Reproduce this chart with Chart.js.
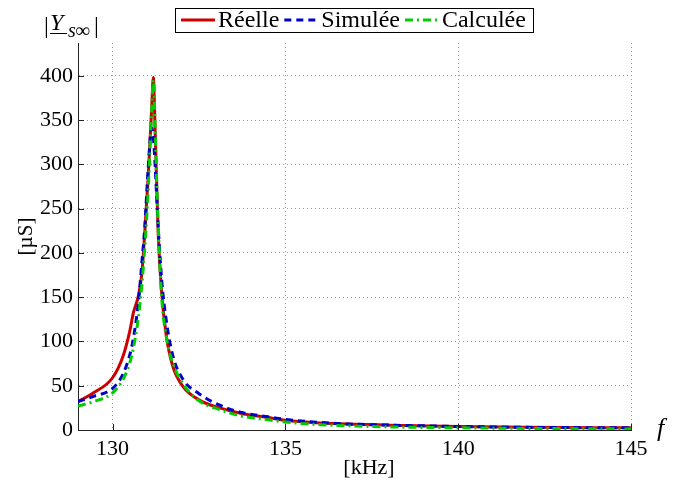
<!DOCTYPE html>
<html>
<head>
<meta charset="utf-8">
<script src="https://cdn.jsdelivr.net/npm/chart.js@4.4.0/dist/chart.umd.min.js"></script>
<style>
html, body { margin: 0; padding: 0; background: #fff; }
#wrap { width: 683px; height: 484px; }
</style>
</head>
<body>
<div id="wrap"><canvas id="chart_adm"></canvas></div>
<script>
// frequences [kHz]
var freq = [129, 129.45, 130, 130.3, 130.5, 130.6, 130.75, 130.85, 130.93, 131.03, 131.13, 131.18, 131.23, 131.27, 131.32,
            131.42, 131.56, 131.75, 132.04, 132.5, 133.1, 133.7, 134.5, 135, 136, 137, 138, 140, 142, 145];
// |Ys_inf| [uS]
var reelle   = [32, 42, 59, 83, 112, 132, 152, 178, 222, 286, 362, 398, 340, 286, 222,
                155, 105, 71, 49, 34, 25, 19, 14, 11, 8, 6.5, 5.5, 4, 3, 2.5];
var simulee  = [32, 38, 47, 63, 85, 103, 145, 190, 228, 295, 341, 330, 300, 268, 230,
                170, 122, 83, 57, 41, 28, 20, 15, 12, 8.5, 6.5, 5.5, 4, 3, 2.5];
var calculee = [27, 32, 42, 57, 76, 92, 128, 165, 205, 270, 360, 395, 345, 290, 230,
                150, 104, 75, 52, 33, 23, 16, 11.5, 9, 6, 4.5, 3.5, 2.5, 1.8, 1.2];
var xTicks = [130, 135, 140, 145];
var yTicks = [0, 50, 100, 150, 200, 250, 300, 350, 400];

var serif = '"Liberation Serif", "Times New Roman", serif';

function pts(ys) {
    return freq.map(function (f, i) { return {x: f, y: ys[i]}; });
}

// ticks vers l'interieur, legende encadree, etiquettes des axes
var extras = {
    id: 'extras',
    afterDraw: function (chart) {
        var c = chart.ctx, a = chart.chartArea;
        var sx = chart.scales.x, sy = chart.scales.y;
        c.save();
        c.strokeStyle = '#222';
        c.lineWidth = 1;
        c.beginPath();
        xTicks.forEach(function (v) {
            var px = Math.round(sx.getPixelForValue(v)) + 0.5;
            c.moveTo(px, a.bottom); c.lineTo(px, a.bottom - 6);
        });
        yTicks.forEach(function (v) {
            var py = Math.round(sy.getPixelForValue(v)) + 0.5;
            c.moveTo(a.left, py); c.lineTo(a.left + 6, py);
        });
        c.stroke();

        // legende
        var bx = 175, by = 8, bw = 358, bh = 24;
        c.fillStyle = '#fff';
        c.fillRect(bx, by, bw, bh);
        c.strokeStyle = '#000';
        c.strokeRect(bx + 0.5, by + 0.5, bw, bh);
        c.font = '24px ' + serif;
        c.textBaseline = 'middle';
        var x = bx + 6, ym = by + bh / 2 + 1;
        chart.data.datasets.forEach(function (ds) {
            c.strokeStyle = ds.borderColor;
            c.lineWidth = 3;
            c.setLineDash(ds.borderDash || []);
            c.beginPath();
            c.moveTo(x, ym - 1); c.lineTo(x + 34, ym - 1);
            c.stroke();
            c.setLineDash([]);
            x += 37;
            c.fillStyle = '#000';
            c.fillText(ds.label, x, ym);
            x += c.measureText(ds.label).width + 5;
        });

        // |Y_s∞|
        c.fillStyle = '#000';
        c.textBaseline = 'alphabetic';
        c.font = '24px ' + serif;
        c.fillText('|', 44, 33);
        c.font = 'italic 24px ' + serif;
        c.fillText('Y', 50, 30);
        c.fillRect(50, 33, 17, 1);
        c.font = 'italic 20px ' + serif;
        c.fillText('s\u221e', 68, 37);
        c.font = '24px ' + serif;
        c.fillText('|', 94, 33);

        // [kHz] et f
        c.font = '22px ' + serif;
        c.textAlign = 'center';
        c.fillText('[kHz]', 369, 474);
        c.textAlign = 'left';
        c.font = 'italic 26px ' + serif;
        c.fillText('f', 657, 436);
        c.restore();
    }
};

var ctx = document.getElementById('chart_adm').getContext('2d');
var chart = new Chart(ctx, {
    type: 'line',
    data: {
        datasets: [{
            label: 'Réelle',
            data: pts(reelle),
            borderColor: '#cc0000',
            borderWidth: 3,
            order: 3
        }, {
            label: 'Simulée',
            data: pts(simulee),
            borderColor: '#0000cc',
            borderWidth: 3,
            borderDash: [7, 5],
            order: 2
        }, {
            label: 'Calculée',
            data: pts(calculee),
            borderColor: '#00cc00',
            borderWidth: 3,
            borderDash: [8, 4, 2, 4],
            order: 1
        }]
    },
    options: {
        responsive: true,
        maintainAspectRatio: false,
        animation: false,
        devicePixelRatio: 1,
        layout: { padding: { left: 0, right: 52, top: 43, bottom: 0 } },
        elements: {
            point: { radius: 0 },
            line: { cubicInterpolationMode: 'monotone', fill: false }
        },
        plugins: {
            legend: { display: false },
            tooltip: { enabled: false }
        },
        scales: {
            x: {
                type: 'linear',
                min: 129,
                max: 145,
                afterBuildTicks: function (s) { s.ticks = xTicks.map(function (v) { return {value: v}; }); },
                afterFit: function (s) { s.height = 54; },
                grid: { color: '#999', drawTicks: false, lineWidth: 1 },
                border: { display: true, color: '#222', width: 1, dash: [1, 3] },
                ticks: { color: '#000', font: { family: serif, size: 22 }, padding: 6, maxRotation: 0, autoSkip: false }
            },
            y: {
                min: 0,
                max: 437,
                afterBuildTicks: function (s) { s.ticks = yTicks.map(function (v) { return {value: v}; }); },
                afterFit: function (s) { s.width = 78; },
                grid: { color: '#999', drawTicks: false, lineWidth: 1 },
                border: { display: true, color: '#222', width: 1, dash: [1, 3] },
                ticks: { color: '#000', font: { family: serif, size: 22 }, padding: 5 },
                title: { display: true, text: '[µS]', color: '#000', font: { family: serif, size: 21 }, padding: { top: 14, bottom: 0 } }
            }
        }
    },
    plugins: [extras]
});
</script>
</body>
</html>
